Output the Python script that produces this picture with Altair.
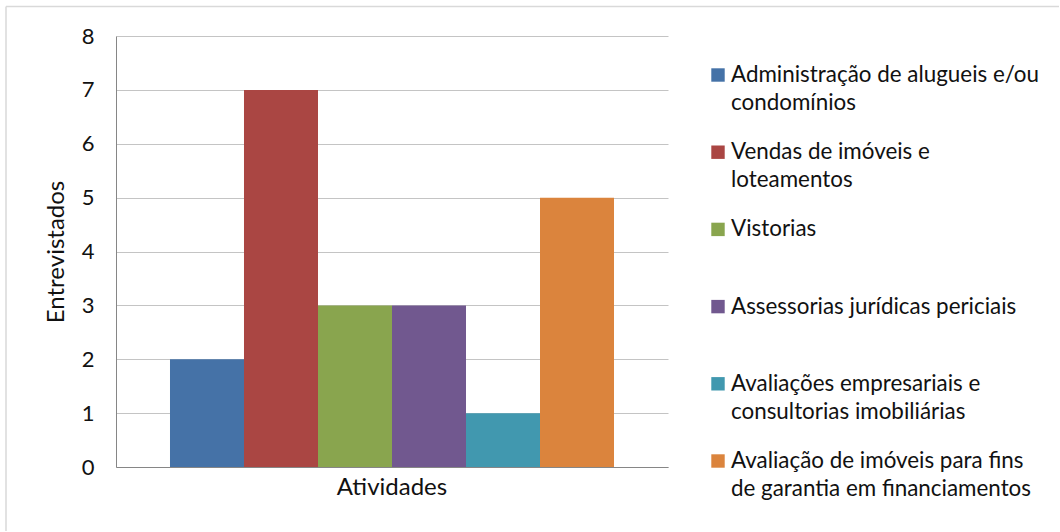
import altair as alt
import pandas as pd

# Categories (series) of the clustered column chart
atividades = [
    "Administração de alugueis e/ou condomínios",
    "Vendas de imóveis e loteamentos",
    "Vistorias",
    "Assessorias jurídicas periciais",
    "Avaliações empresariais e consultorias imobiliárias",
    "Avaliação de imóveis para fins de garantia em financiamentos",
]
# Legend text, wrapped as shown beside the plot
legenda = [
    "Administração de alugueis e/ou\ncondomínios",
    "Vendas de imóveis e\nloteamentos",
    "Vistorias",
    "Assessorias jurídicas periciais",
    "Avaliações empresariais e\nconsultorias imobiliárias",
    "Avaliação de imóveis para fins\nde garantia em financiamentos",
]
entrevistados = [2, 7, 3, 3, 1, 5]
cores = ["#4572A7", "#AA4643", "#89A54E", "#71588F", "#4198AF", "#DB843D"]
categoria = "Atividades"
y_ticks = [0, 1, 2, 3, 4, 5, 6, 7, 8]

FONT = "Lato"
TXT = "#111111"

df = pd.DataFrame({
    "categoria": [categoria] * len(atividades),
    "atividade": atividades,
    "entrevistados": entrevistados,
    "ordem": list(range(len(atividades))),
    "legenda": legenda,
})
one = pd.DataFrame({"k": [0]})

color = alt.Color(
    "atividade:N",
    scale=alt.Scale(domain=atividades, range=cores),
    legend=None,
)

bars = alt.Chart(df).mark_bar().encode(
    x=alt.X(
        "categoria:N",
        scale=alt.Scale(paddingInner=0, paddingOuter=0.1216),
        axis=alt.Axis(
            title=None, labelAngle=0, ticks=False, grid=False,
            domainColor="#868686", labelFont=FONT, labelFontSize=24,
            labelColor=TXT, labelPadding=8,
        ),
    ),
    xOffset=alt.XOffset(
        "atividade:N", sort=atividades,
        scale=alt.Scale(domain=atividades, paddingInner=0, paddingOuter=0),
    ),
    y=alt.Y(
        "entrevistados:Q",
        scale=alt.Scale(domain=[0, 8], nice=False),
        axis=alt.Axis(
            title="Entrevistados", values=y_ticks, ticks=False,
            domainColor="#868686", gridColor="#C4C4C4",
            labelFont=FONT, labelFontSize=22, labelColor=TXT, labelPadding=22,
            titleFont=FONT, titleFontSize=24, titleFontWeight="normal",
            titleColor=TXT, titlePadding=13,
        ),
    ),
    color=color,
)

# Legend drawn beside the plot: one square and one wrapped label per activity
leg_y = alt.Y("ordem:Q", scale=alt.Scale(domain=[0, 5], range=[39, 425]), axis=None)

leg_sq = alt.Chart(df).mark_square(size=180, opacity=1).encode(
    x=alt.value(602), y=leg_y, color=color,
)
leg_txt = alt.Chart(df).mark_text(
    align="left", baseline="middle", lineBreak="\n", lineHeight=28,
    font=FONT, fontSize=22.4, color=TXT,
).encode(x=alt.value(615), y=leg_y, text="legenda:N")

# Chart frame (top and left edges)
frame_top = alt.Chart(one).mark_rule(color="#D9D9D9", strokeWidth=1.5).encode(
    x=alt.value(-110), x2=alt.value(943), y=alt.value(-29.5)
)
frame_left = alt.Chart(one).mark_rule(color="#D9D9D9", strokeWidth=1.5).encode(
    x=alt.value(-110), y=alt.value(-29.5), y2=alt.value(495)
)

chart = alt.layer(frame_top, frame_left, bars, leg_sq, leg_txt).resolve_scale(
    y="independent"
).properties(
    width=552, height=431,
    padding={"left": 5, "top": 5, "right": 0, "bottom": 0},
    background="white",
).configure_view(stroke=None)

chart.save("out.html", embed_options={"renderer": "svg", "actions": False})
